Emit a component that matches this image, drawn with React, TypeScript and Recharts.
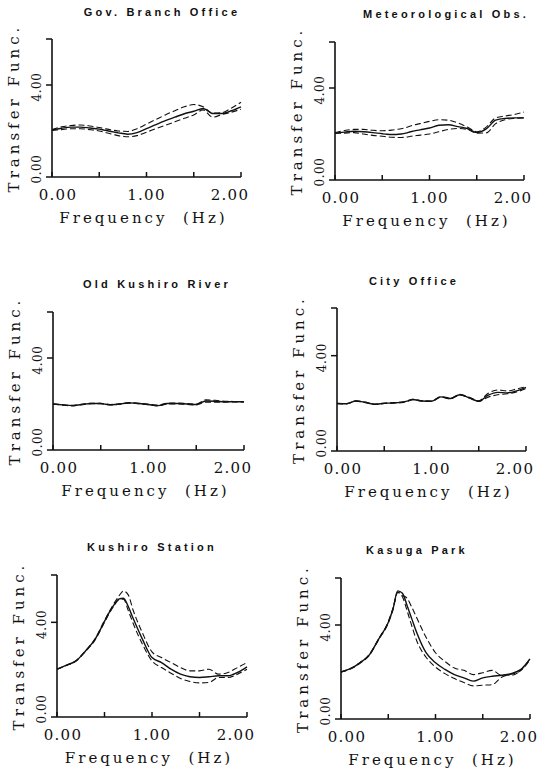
import React from "react";
import { LineChart, Line, XAxis, YAxis, Label } from "recharts";

// frequency samples (Hz), denser round the resonance peaks
const FREQ = [0, 0.1, 0.2, 0.3, 0.4, 0.5, 0.55, 0.6, 0.65, 0.7, 0.75, 0.8, 0.9, 1.0, 1.1, 1.2, 1.3, 1.4, 1.5, 1.6, 1.7, 1.8, 1.9, 2.0];

const X_TICKS = [0, 0.5, 1, 1.5, 2];
const X_TICK_LABELS = ["0.00", "", "1.00", "", "2.00"];
const Y_TICKS = [0, 4, 6];
const Y_TICK_LABELS = ["0.00", "4.00", ""];

const X_TITLE = "Frequency  (Hz)";
const Y_TITLE = "Transfer Func.";

const TITLES = ["Gov. Branch Office", "Meteorological Obs.", "Old Kushiro River", "City Office", "Kushiro Station", "Kasuga Park"];

// Gov. Branch Office
const govMean = [2.05, 2.12, 2.17, 2.17, 2.13, 2.08, 2.04, 2.0, 1.96, 1.92, 1.89, 1.86, 1.93, 2.1, 2.28, 2.45, 2.6, 2.75, 2.86, 2.98, 2.76, 2.76, 2.88, 3.05];
const govUpper = [2.06, 2.18, 2.24, 2.26, 2.22, 2.15, 2.11, 2.07, 2.03, 2.0, 1.99, 1.98, 2.1, 2.3, 2.5, 2.7, 2.88, 3.05, 3.15, 3.05, 2.78, 2.8, 3.0, 3.25];
const govLower = [2.02, 2.06, 2.1, 2.1, 2.06, 2.0, 1.95, 1.9, 1.85, 1.8, 1.77, 1.75, 1.8, 1.95, 2.1, 2.25, 2.4, 2.55, 2.7, 2.92, 2.6, 2.72, 2.82, 2.95];

// Meteorological Obs.
const metMean = [2.04, 2.08, 2.12, 2.1, 2.06, 2.01, 1.99, 1.98, 1.98, 2.0, 2.04, 2.1, 2.18, 2.26, 2.38, 2.4, 2.32, 2.24, 2.06, 2.22, 2.6, 2.68, 2.7, 2.7];
const metUpper = [2.05, 2.15, 2.2, 2.2, 2.16, 2.14, 2.15, 2.17, 2.2, 2.23, 2.28, 2.35, 2.45, 2.55, 2.62, 2.6, 2.48, 2.3, 2.1, 2.3, 2.7, 2.78, 2.85, 2.95];
const metLower = [2.02, 2.04, 2.06, 2.0, 1.94, 1.9, 1.88, 1.86, 1.85, 1.85, 1.86, 1.9, 1.95, 2.0, 2.1, 2.2, 2.24, 2.2, 2.04, 2.05, 2.45, 2.62, 2.68, 2.7];

// Old Kushiro River
const okrMean = [2.0, 1.96, 1.93, 1.98, 2.02, 2.02, 1.99, 1.97, 1.98, 2.0, 2.03, 2.05, 2.02, 1.98, 1.93, 2.02, 2.02, 2.0, 1.98, 2.13, 2.12, 2.1, 2.1, 2.1];
const okrUpper = [2.0, 1.97, 1.94, 1.99, 2.03, 2.03, 2.0, 1.98, 1.99, 2.01, 2.04, 2.06, 2.03, 1.99, 1.95, 2.04, 2.04, 2.02, 2.0, 2.18, 2.16, 2.12, 2.11, 2.1];
const okrLower = [2.0, 1.95, 1.92, 1.97, 2.01, 2.01, 1.98, 1.96, 1.97, 1.99, 2.02, 2.04, 2.01, 1.97, 1.92, 2.0, 2.0, 1.98, 1.96, 2.08, 2.08, 2.08, 2.09, 2.09];

// City Office
const cityMean = [1.99, 1.98, 2.1, 2.04, 1.96, 2.0, 2.01, 2.02, 2.03, 2.05, 2.1, 2.16, 2.1, 2.09, 2.27, 2.2, 2.36, 2.23, 2.09, 2.34, 2.46, 2.44, 2.52, 2.67];
const cityUpper = [2.0, 1.99, 2.11, 2.05, 1.97, 2.01, 2.02, 2.03, 2.04, 2.06, 2.11, 2.17, 2.11, 2.1, 2.28, 2.22, 2.38, 2.25, 2.11, 2.42, 2.56, 2.52, 2.6, 2.7];
const cityLower = [1.98, 1.97, 2.09, 2.03, 1.95, 1.99, 2.0, 2.01, 2.02, 2.04, 2.09, 2.15, 2.09, 2.08, 2.26, 2.19, 2.35, 2.22, 2.08, 2.26, 2.36, 2.4, 2.48, 2.62];

// Kushiro Station
const ksMean = [2.02, 2.19, 2.37, 2.79, 3.28, 4.04, 4.42, 4.74, 4.98, 5.02, 4.67, 4.18, 3.28, 2.51, 2.3, 2.02, 1.81, 1.7, 1.67, 1.7, 1.74, 1.74, 1.88, 2.12];
const ksUpper = [2.02, 2.19, 2.38, 2.8, 3.3, 4.08, 4.45, 4.8, 5.1, 5.32, 5.16, 4.53, 3.55, 2.75, 2.51, 2.3, 2.09, 1.95, 1.95, 2.02, 1.81, 1.88, 2.09, 2.3];
const ksLower = [2.02, 2.18, 2.36, 2.77, 3.25, 4.0, 4.38, 4.7, 4.95, 4.98, 4.5, 3.97, 3.07, 2.37, 2.09, 1.85, 1.63, 1.5, 1.44, 1.46, 1.67, 1.67, 1.81, 2.02];

// Kasuga Park
const kpMean = [2.0, 2.14, 2.39, 2.73, 3.41, 4.11, 4.68, 5.45, 5.35, 4.82, 4.25, 3.69, 2.82, 2.39, 2.11, 1.89, 1.75, 1.61, 1.75, 1.82, 1.86, 1.93, 2.1, 2.56];
const kpUpper = [2.0, 2.15, 2.4, 2.75, 3.43, 4.14, 4.72, 5.4, 5.27, 5.13, 4.75, 4.32, 3.48, 2.82, 2.45, 2.17, 2.07, 1.89, 1.97, 2.07, 1.86, 1.86, 2.07, 2.56];
const kpLower = [2.0, 2.13, 2.37, 2.71, 3.39, 4.08, 4.65, 5.38, 5.2, 4.6, 3.95, 3.34, 2.63, 2.21, 1.93, 1.72, 1.55, 1.41, 1.44, 1.46, 1.78, 1.9, 2.05, 2.52];

const SERIES = [
  [govMean, govUpper, govLower],
  [metMean, metUpper, metLower],
  [okrMean, okrUpper, okrLower],
  [cityMean, cityUpper, cityLower],
  [ksMean, ksUpper, ksLower],
  [kpMean, kpUpper, kpLower]
];

// plot boxes on the page: left, top, right, bottom, title centre
const LAYOUT = [
  { l: 52, t: 39, r: 241, b: 177, tx: 162, ty: 12 },
  { l: 335, t: 42, r: 524, b: 180, tx: 446, ty: 14 },
  { l: 53, t: 312, r: 244, b: 450, tx: 157, ty: 284 },
  { l: 337, t: 308, r: 526, b: 451, tx: 414, ty: 281 },
  { l: 57, t: 575, r: 247, b: 717, tx: 152, ty: 547 },
  { l: 341, t: 578, r: 530, b: 719, tx: 417, ty: 550 }
];

const INK = "#111";
const SERIF = "'DejaVu Serif', serif";

function XTick(props: any) {
  const { x, y, payload } = props;
  const i = X_TICKS.indexOf(payload.value);
  const label = X_TICK_LABELS[i] || "";
  const dx = i === 0 ? 6 : i === X_TICKS.length - 1 ? -11 : 0;
  return (
    <g>
      <line x1={x} y1={y} x2={x} y2={y - 5} stroke={INK} strokeWidth={1.5} />
      {label && (
        <text x={x + dx} y={y + 18} textAnchor="middle" dominantBaseline="central"
          fontFamily={SERIF} fontSize={15} letterSpacing={1.3} fill={INK}>
          {label}
        </text>
      )}
    </g>
  );
}

function YTick(props: any) {
  const { x, y, payload } = props;
  const i = Y_TICKS.indexOf(payload.value);
  const label = Y_TICK_LABELS[i] || "";
  const cy = i === 0 ? y - 8 : y + 2;
  const cx = x - 15;
  return (
    <g>
      <line x1={x} y1={y} x2={x - 6} y2={y} stroke={INK} strokeWidth={1.5} />
      {label && (
        <text x={cx} y={cy} transform={`rotate(-90 ${cx} ${cy})`} textAnchor="middle"
          dominantBaseline="central" fontFamily={SERIF} fontSize={12} letterSpacing={0.6} fill={INK}>
          {label}
        </text>
      )}
    </g>
  );
}

function XTitle(props: any) {
  const vb = props.viewBox;
  return (
    <text x={vb.x + vb.width / 2 - 3} y={vb.y + 41} textAnchor="middle" dominantBaseline="central"
      fontFamily={SERIF} fontSize={15} letterSpacing={3} fill={INK} style={{ whiteSpace: "pre" }}>
      {X_TITLE}
    </text>
  );
}

function YTitle(props: any) {
  const vb = props.viewBox;
  const cx = vb.x + vb.width - 38;
  const cy = vb.y + vb.height / 2;
  return (
    <text x={cx} y={cy} transform={`rotate(-90 ${cx} ${cy})`} textAnchor="middle" dominantBaseline="central"
      fontFamily={SERIF} fontSize={15} letterSpacing={4} fill={INK}>
      {Y_TITLE}
    </text>
  );
}

function Panel({ idx }: { idx: number }) {
  const box = LAYOUT[idx];
  const [mean, upper, lower] = SERIES[idx];
  const data = FREQ.map((f, i) => ({ f, mean: mean[i], upper: upper[i], lower: lower[i] }));
  const yw = 50;
  const right = 30;
  const top = 30;
  const w = box.r - box.l + yw + right;
  const h = box.b - box.t + top + 50;

  return (
    <>
      <div
        style={{
          position: "absolute",
          left: box.tx,
          top: box.ty,
          transform: "translate(-50%, -50%)",
          whiteSpace: "nowrap",
          fontFamily: "'Liberation Sans', sans-serif",
          fontWeight: "bold",
          fontSize: 11,
          letterSpacing: 3.2,
          color: INK
        }}
      >
        {TITLES[idx]}
      </div>
      <div style={{ position: "absolute", left: box.l - yw, top: box.t - top }}>
        <LineChart width={w} height={h} data={data} margin={{ top, right, bottom: 0, left: 0 }}>
          <XAxis
            dataKey="f"
            type="number"
            domain={[0, 2]}
            ticks={X_TICKS}
            height={50}
            tickSize={0}
            tickMargin={0}
            tickLine={false}
            tick={<XTick />}
            axisLine={{ stroke: INK, strokeWidth: 1.6 }}
            interval={0}
          >
            <Label content={<XTitle />} />
          </XAxis>
          <YAxis
            type="number"
            domain={[0, 6]}
            ticks={Y_TICKS}
            width={yw}
            tickSize={0}
            tickMargin={0}
            tickLine={false}
            tick={<YTick />}
            axisLine={{ stroke: INK, strokeWidth: 1.6 }}
            interval={0}
          >
            <Label content={<YTitle />} />
          </YAxis>
          <Line type="monotone" dataKey="upper" stroke={INK} strokeWidth={1.1} strokeDasharray="6 3" dot={false} isAnimationActive={false} />
          <Line type="monotone" dataKey="lower" stroke={INK} strokeWidth={1.1} strokeDasharray="6 3" dot={false} isAnimationActive={false} />
          <Line type="monotone" dataKey="mean" stroke={INK} strokeWidth={1.4} dot={false} isAnimationActive={false} />
        </LineChart>
      </div>
    </>
  );
}

export default function App() {
  return (
    <div style={{ position: "absolute", left: 0, top: 0, width: 538, height: 773, background: "#fff", overflow: "hidden" }}>
      {LAYOUT.map((_, i) => (
        <Panel key={i} idx={i} />
      ))}
    </div>
  );
}
